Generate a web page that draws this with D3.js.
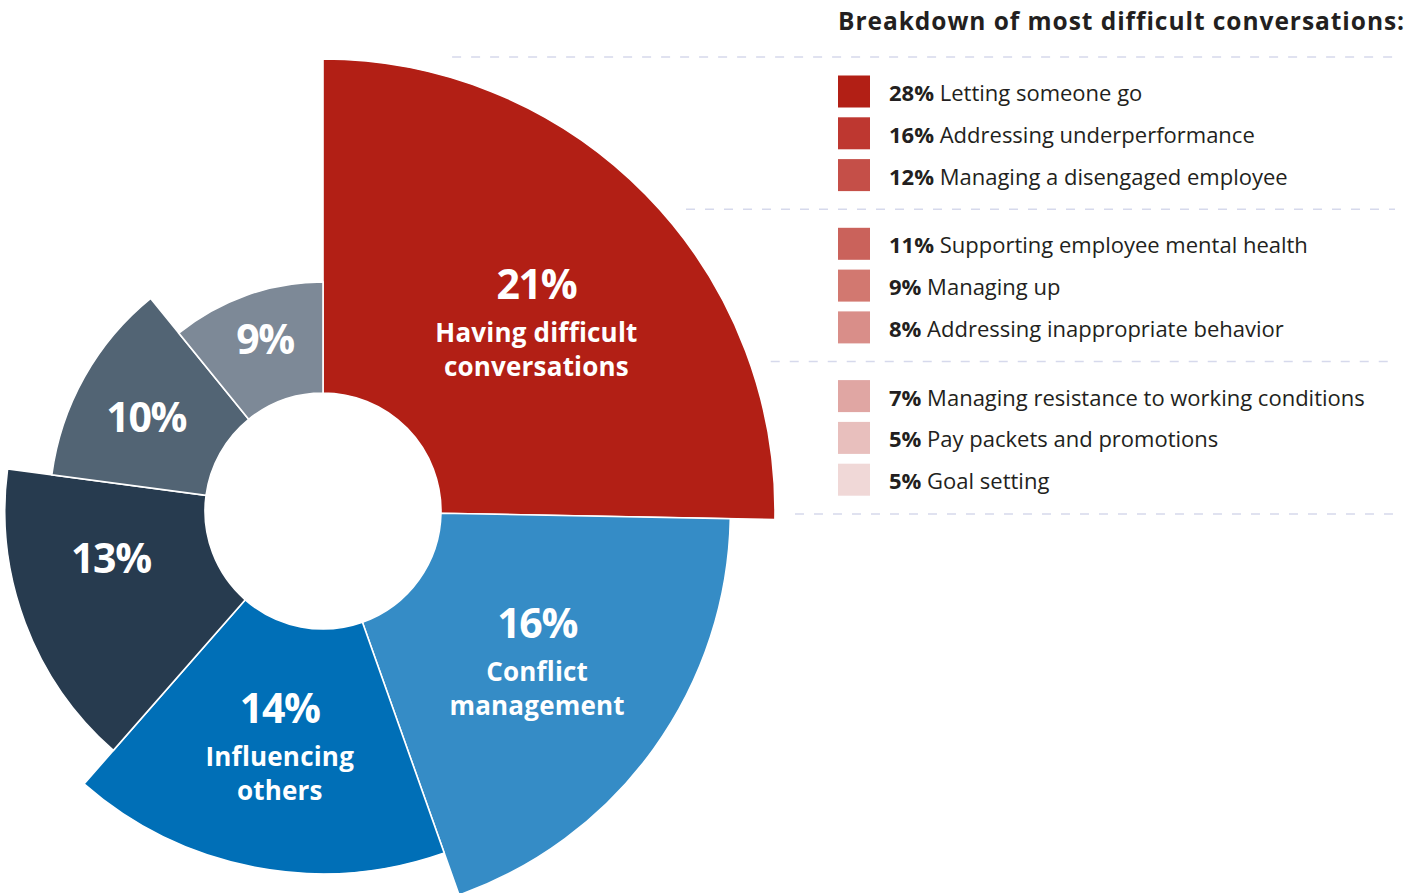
<!DOCTYPE html>
<html>
<head>
<meta charset="utf-8">
<script src="https://cdn.jsdelivr.net/npm/d3@7"></script>
<style>
  html, body { margin: 0; padding: 0; background: #ffffff; }
  svg { display: block; }
  text { font-family: "Open Sans", Lato, "DejaVu Sans", sans-serif; }
</style>
</head>
<body>
<svg id="chart" width="1422" height="893"></svg>
<script>
// Main ring: share of respondents per topic
const sliceValues = [21, 16, 14, 13, 10, 9];
const sliceLines = [
  ["Having difficult", "conversations"],
  ["Conflict", "management"],
  ["Influencing", "others"],
  [], [], []
];
const sliceColors = ["#b21f15", "#358cc6", "#006fb7", "#273b4f", "#526474", "#7d8997"];

// Breakdown legend
const breakdownValues = [28, 16, 12, 11, 9, 8, 7, 5, 5];
const breakdownLabels = [
  "Letting someone go",
  "Addressing underperformance",
  "Managing a disengaged employee",
  "Supporting employee mental health",
  "Managing up",
  "Addressing inappropriate behavior",
  "Managing resistance to working conditions",
  "Pay packets and promotions",
  "Goal setting"
];
const breakdownColors = ["#b21f15", "#be3730", "#c54f48", "#ca625b", "#d27870", "#d98e89", "#e0a6a3", "#e8bfbd", "#f0d8d7"];
const breakdownTitle = "Breakdown of most difficult conversations:";

const svg = d3.select("#chart");
const cx = 323, cy = 511;
const innerR = 118;

// Outer radius steps down with each slice's rank
const outerR = d3.scaleLinear().domain([0, sliceValues.length - 1]).range([452, 229]);

const pie = d3.pie().sort(null).value(d => d);
const arcs = pie(sliceValues);
const arc = d3.arc()
  .innerRadius(innerR)
  .outerRadius(d => outerR(d.index));

const g = svg.append("g").attr("transform", `translate(${cx},${cy})`);

g.selectAll("path.slice")
  .data(arcs)
  .join("path")
  .attr("class", "slice")
  .attr("d", arc)
  .attr("fill", (d, i) => sliceColors[i])
  .attr("stroke", "#ffffff")
  .attr("stroke-width", 1.6)
  .attr("stroke-linejoin", "miter");

// Label anchor = slice centroid plus a small nudge (baseline of the % figure)
const labelNudge = [[10, -12], [1, -27], [2, -24], [-8, -15], [-6, 17], [0, 7]];

const labels = g.selectAll("g.label")
  .data(arcs)
  .join("g")
  .attr("class", "label")
  .attr("transform", (d, i) => {
    const c = d3.arc().innerRadius(innerR).outerRadius(outerR(d.index)).centroid(d);
    return `translate(${c[0] + labelNudge[i][0]},${c[1] + labelNudge[i][1]})`;
  });

labels.append("text")
  .attr("text-anchor", "middle")
  .attr("fill", "#ffffff")
  .attr("font-weight", 700)
  .attr("font-size", 41)
  .attr("letter-spacing", -1.3)
  .text(d => d.data + "%");

labels.each(function(d, i) {
  const sel = d3.select(this);
  sliceLines[i].forEach((line, k) => {
    sel.append("text")
      .attr("text-anchor", "middle")
      .attr("fill", "#ffffff")
      .attr("font-weight", 700)
      .attr("font-size", 26)
      .attr("letter-spacing", 0.2)
      .attr("y", 43 + k * 34)
      .text(line);
  });
});

// Legend
const legX = 838, textX = 889;
svg.append("text")
  .attr("x", legX)
  .attr("y", 30)
  .attr("fill", "#231f20")
  .attr("font-weight", 700)
  .attr("font-size", 24.5)
  .attr("letter-spacing", 0.95)
  .text(breakdownTitle);

const groupSize = 3;
const groupH = 152.3;
const firstLineY = 57;
const rowStep = 41.8;
const sq = 32;
const lineEndX = 1395;
const R0 = outerR(0) + 20;

// Dashed separators start just outside the largest slice
const nGroups = Math.ceil(breakdownValues.length / groupSize);
const sepYs = d3.range(nGroups + 1).map(k => firstLineY + k * groupH);
svg.selectAll("line.sep")
  .data(sepYs)
  .join("line")
  .attr("class", "sep")
  .attr("x1", y => {
    const dy = Math.abs(y - cy);
    return cx + Math.sqrt(Math.max(0, R0 * R0 - dy * dy));
  })
  .attr("x2", lineEndX)
  .attr("y1", y => y)
  .attr("y2", y => y)
  .attr("stroke", "#d6d9ec")
  .attr("stroke-width", 1.5)
  .attr("stroke-dasharray", "9 10");

const rows = svg.selectAll("g.row")
  .data(breakdownValues)
  .join("g")
  .attr("class", "row")
  .attr("transform", (d, i) => {
    const grp = Math.floor(i / groupSize), k = i % groupSize;
    const top = firstLineY + grp * groupH + 18.5 + k * rowStep;
    return `translate(0,${top})`;
  });

rows.append("rect")
  .attr("x", legX)
  .attr("y", 0)
  .attr("width", sq)
  .attr("height", sq)
  .attr("fill", (d, i) => breakdownColors[i]);

const rowText = rows.append("text")
  .attr("x", textX)
  .attr("y", 25.5)
  .attr("fill", "#231f20")
  .attr("font-size", 22);
rowText.append("tspan").attr("font-weight", 700).text(d => d + "%");
rowText.append("tspan").attr("font-weight", 400).text((d, i) => " " + breakdownLabels[i]);
</script>
</body>
</html>
